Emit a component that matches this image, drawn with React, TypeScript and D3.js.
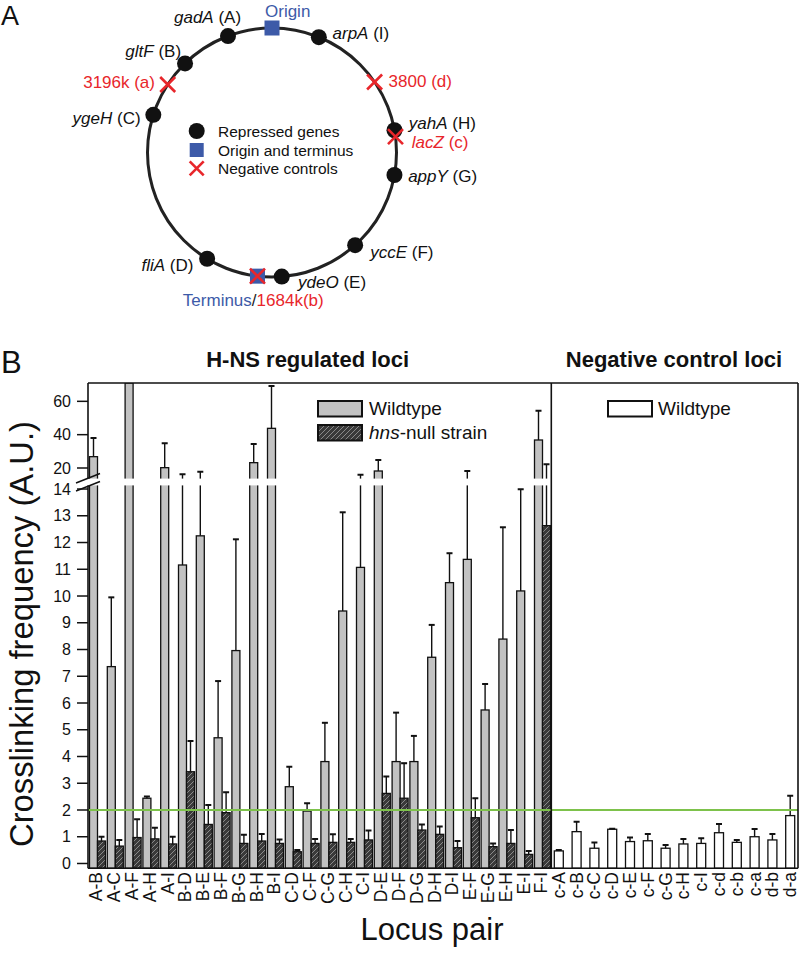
import React from "react";
import * as d3 from "d3";

// ---------------- Panel B data ----------------
const hnsPairs = ["A-B","A-C","A-F","A-H","A-I","B-D","B-E","B-F","B-G","B-H","B-I","C-D","C-F","C-G","C-H","C-I","D-E","D-F","D-G","D-H","D-I","E-F","E-G","E-H","E-I","F-I"];
const wildtypeValues = [26.8,7.36,80,2.44,20.2,11.16,12.25,4.7,7.96,23.2,43.8,2.87,1.96,3.81,9.44,11.07,18.2,3.81,3.81,7.71,10.5,11.37,5.74,8.39,10.19,36.8];
const wildtypeErrors = [11.2,2.59,0,0.06,14.6,5.14,5.55,2.12,4.16,11.2,25.4,0.75,0.29,1.45,3.69,4.93,6.6,1.83,0.96,1.21,1.1,6.83,0.97,4.18,3.8,17.6];
const hnsNullValues = [0.84,0.65,0.97,0.92,0.73,3.43,1.46,1.9,0.75,0.84,0.75,0.44,0.75,0.79,0.79,0.88,2.62,2.44,1.25,1.09,0.59,1.71,0.63,0.75,0.34,12.63];
const hnsNullErrors = [0.16,0.23,0.68,0.42,0.27,1.15,0.73,0.76,0.32,0.26,0.15,0.06,0.17,0.3,0.13,0.35,0.63,1.31,0.21,0.29,0.25,0.73,0.12,0.5,0.13,9.6];

const negPairs = ["c-A","c-B","c-C","c-D","c-E","c-F","c-G","c-H","c-I","c-d","c-b","c-a","d-b","d-a"];
const negValues = [0.47,1.19,0.57,1.28,0.82,0.85,0.57,0.73,0.75,1.15,0.79,1.0,0.88,1.79];
const negErrors = [0.03,0.37,0.21,0.02,0.15,0.25,0.12,0.19,0.19,0.33,0.09,0.29,0.22,0.74];

const lowerTicks = [0,1,2,3,4,5,6,7,8,9,10,11,12,13,14];
const upperTicks = [20,40,60];
const thresholdValue = 2;

// ---------------- Panel A data ----------------
// angle (degrees, clockwise from top) of each locus on the circular chromosome
const genes = [
  { name: "gadA", tag: "(A)", angle: -20.7 },
  { name: "arpA", tag: "(I)", angle: 22.1 },
  { name: "gltF", tag: "(B)", angle: -44.3 },
  { name: "ygeH", tag: "(C)", angle: -72.4 },
  { name: "yahA", tag: "(H)", angle: 79.7 },
  { name: "appY", tag: "(G)", angle: 100.4 },
  { name: "yccE", tag: "(F)", angle: 138.1 },
  { name: "ydeO", tag: "(E)", angle: 175.5 },
  { name: "fliA", tag: "(D)", angle: 211.4 },
];
const controls = [
  { name: "3196k (a)", angle: -56.9 },
  { name: "3800 (d)", angle: 55.5 },
  { name: "lacZ", tag: " (c)", angle: 82.7 },
  { name: "1684k(b)", angle: 186.7 },
];
const originAngle = 0;
const terminusAngle = 186.7;

// label layout (offsets from marker)
const geneLabelLayout: Record<string, { dx: number; dy: number; anchor: string }> = {
  gadA: { dx: -54, dy: -12.6, anchor: "start" },
  arpA: { dx: 13.7, dy: 2.3, anchor: "start" },
  gltF: { dx: -4, dy: -6.7, anchor: "end" },
  ygeH: { dx: -12.7, dy: 9, anchor: "end" },
  yahA: { dx: 14.3, dy: -1.7, anchor: "start" },
  appY: { dx: 13.7, dy: 6.7, anchor: "start" },
  yccE: { dx: 15, dy: 13.3, anchor: "start" },
  ydeO: { dx: 16.3, dy: 11.7, anchor: "start" },
  fliA: { dx: -13.7, dy: 12.4, anchor: "end" },
};
const controlLabelLayout: Record<string, { dx: number; dy: number; anchor: string }> = {
  "3196k (a)": { dx: -12.7, dy: 3.4, anchor: "end" },
  "3800 (d)": { dx: 14, dy: 5, anchor: "start" },
  lacZ: { dx: 16.3, dy: 11.6, anchor: "start" },
};

const FONT = "'Liberation Sans', Arial, Helvetica, sans-serif";
const RED = "#e8262b";
const BLUE = "#3d5aa8";

function XMark({ x, y, s = 7.5, w = 2.6 }: { x: number; y: number; s?: number; w?: number }) {
  return (
    <g stroke={RED} strokeWidth={w} strokeLinecap="butt">
      <line x1={x - s} y1={y - s} x2={x + s} y2={y + s} />
      <line x1={x - s} y1={y + s} x2={x + s} y2={y - s} />
    </g>
  );
}

export default function App() {
  // ---- Panel A geometry ----
  const cx = 272, cy = 152.5, R = 124.5;
  const pos = (deg: number) => {
    const a = (deg * Math.PI) / 180;
    return [cx + R * Math.sin(a), cy - R * Math.cos(a)];
  };

  // ---- Panel B scales ----
  const allPairs = [...hnsPairs, ...negPairs];
  const x = d3.scaleBand<string>().domain(allPairs).range([88.5, 800.5]).padding(0);
  const bw = x.bandwidth();
  const yLow = d3.scaleLinear().domain([-0.18, 14.3]).range([868.3, 481]);
  const yHigh = d3.scaleLinear().domain([14, 71]).range([478, 383]).clamp(true);
  const yv = (v: number) => (v <= 14.3 ? yLow(v) : yHigh(v));
  const base = yLow(-0.18);
  const plotL = 88, plotR = 798, plotT = 383;
  const divX = x("c-A")!;

  const bar = (x0: number, w: number, v: number, fill: string, key: string) => (
    <rect key={key} x={x0} y={yv(v)} width={w} height={base - yv(v)} fill={fill} stroke="#111" strokeWidth={1.3} />
  );
  const err = (xc: number, v: number, e: number, key: string) =>
    e > 0 ? (
      <g key={key} stroke="#111">
        <line x1={xc} x2={xc} y1={yv(v)} y2={yv(v + e)} strokeWidth={1.4} />
        <line x1={xc - 3} x2={xc + 3} y1={yv(v + e)} y2={yv(v + e)} strokeWidth={2} />
      </g>
    ) : null;

  return (
    <svg width={800} height={963} viewBox="0 0 800 963" style={{ display: "block", position: "absolute", left: 0, top: 0, background: "#fff" }} fontFamily={FONT}>
      <defs>
        <pattern id="hatch" patternUnits="userSpaceOnUse" width={5} height={5}>
          <rect width={5} height={5} fill="#3a3a3a" />
          <path d="M-1,1 l2,-2 M0,5 l5,-5 M4,6 l2,-2" stroke="#8a8a8a" strokeWidth={1} />
        </pattern>
        <clipPath id="plotclip">
          <rect x={plotL} y={plotT} width={plotR - plotL} height={base - plotT + 2} />
        </clipPath>
      </defs>
      <rect width={800} height={963} fill="#fff" />

      {/* ================= Panel A ================= */}
      <text x={1} y={25} fontSize={27} fill="#111">A</text>
      <circle cx={cx} cy={cy} r={R} fill="none" stroke="#222" strokeWidth={3} />
      {/* origin */}
      {(() => {
        const [ox, oy] = pos(originAngle);
        return (
          <g>
            <rect x={ox - 7.5} y={oy - 7.5} width={15} height={15} fill={BLUE} />
            <text x={ox - 7} y={oy - 11} fontSize={17} fill={BLUE}>Origin</text>
          </g>
        );
      })()}
      {/* genes */}
      {genes.map((g) => {
        const [gx, gy] = pos(g.angle);
        const L = geneLabelLayout[g.name];
        return (
          <g key={g.name}>
            <circle cx={gx} cy={gy} r={8} fill="#111" />
            <text x={gx + L.dx} y={gy + L.dy} fontSize={17} fill="#111" textAnchor={L.anchor}>
              <tspan fontStyle="italic">{g.name}</tspan>
              <tspan> {g.tag}</tspan>
            </text>
          </g>
        );
      })}
      {/* terminus */}
      {(() => {
        const [tx, ty] = pos(terminusAngle);
        return (
          <g>
            <rect x={tx - 7.5} y={ty - 7.5} width={15} height={15} fill={BLUE} />
            <text x={tx - 74.6} y={ty + 30} fontSize={17}>
              <tspan fill={BLUE}>Terminus</tspan>
              <tspan fill="#222">/</tspan>
              <tspan fill={RED}>{controls[3].name}</tspan>
            </text>
          </g>
        );
      })()}
      {/* controls */}
      {controls.map((c) => {
        const [kx, ky] = pos(c.angle);
        const L = controlLabelLayout[c.name];
        return (
          <g key={c.name}>
            <XMark x={kx} y={ky} />
            {L && (
              <text x={kx + L.dx} y={ky + L.dy} fontSize={17} fill={RED} textAnchor={L.anchor}>
                {c.tag ? (
                  <>
                    <tspan fontStyle="italic">{c.name}</tspan>
                    <tspan>{c.tag}</tspan>
                  </>
                ) : (
                  c.name
                )}
              </text>
            )}
          </g>
        );
      })}
      {/* legend A */}
      <circle cx={196.7} cy={131} r={8} fill="#111" />
      <rect x={189.7} y={143} width={14} height={14} fill={BLUE} />
      <XMark x={196.7} y={168.3} s={7} />
      <text x={218} y={137} fontSize={15.5} fill="#111">Repressed genes</text>
      <text x={218} y={155.5} fontSize={15.5} fill="#111">Origin and terminus</text>
      <text x={218} y={174} fontSize={15.5} fill="#111">Negative controls</text>

      {/* ================= Panel B ================= */}
      <text x={1} y={373} fontSize={31} fill="#111">B</text>
      <text x={(plotL + divX) / 2 - 12} y={367} fontSize={22} fontWeight="bold" textAnchor="middle" fill="#111">H-NS regulated loci</text>
      <text x={674} y={367} fontSize={22} fontWeight="bold" textAnchor="middle" fill="#111">Negative control loci</text>

      <g clipPath="url(#plotclip)">
        {hnsPairs.map((p, i) => bar(x(p)! + 1, 8, wildtypeValues[i], "#c2c2c2", "w" + p))}
        {hnsPairs.map((p, i) => bar(x(p)! + 9, 8, hnsNullValues[i], "url(#hatch)", "h" + p))}
        {negPairs.map((p, i) => bar(x(p)! + 3, 9, negValues[i], "#fff", "n" + p))}
        {hnsPairs.map((p, i) => err(x(p)! + 5, wildtypeValues[i], wildtypeErrors[i], "we" + p))}
        {hnsPairs.map((p, i) => err(x(p)! + 13, hnsNullValues[i], hnsNullErrors[i], "he" + p))}
        {negPairs.map((p, i) => err(x(p)! + 7.5, negValues[i], negErrors[i], "ne" + p))}
      </g>

      {/* axis break gap */}
      <rect x={86} y={478.6} width={divX - 87} height={6.8} fill="#fff" />
      <line x1={76} y1={483} x2={100} y2={473.5} stroke="#111" strokeWidth={1.5} />
      <line x1={76} y1={491} x2={100} y2={481.5} stroke="#111" strokeWidth={1.5} />

      {/* threshold line */}
      <line x1={plotL} x2={plotR} y1={yv(thresholdValue)} y2={yv(thresholdValue)} stroke="#7dc24b" strokeWidth={2} />

      {/* frame */}
      <line x1={plotL} x2={plotR} y1={plotT} y2={plotT} stroke="#111" strokeWidth={1.6} />
      <line x1={plotR} x2={plotR} y1={plotT} y2={base} stroke="#111" strokeWidth={1.6} />
      <line x1={plotL} x2={plotR} y1={base} y2={base} stroke="#111" strokeWidth={1.6} />
      <line x1={plotL} x2={plotL} y1={plotT} y2={478.6} stroke="#111" strokeWidth={1.6} />
      <line x1={plotL} x2={plotL} y1={485.4} y2={base} stroke="#111" strokeWidth={1.6} />
      <line x1={divX} x2={divX} y1={plotT} y2={base} stroke="#111" strokeWidth={1.6} />

      {/* y ticks */}
      {lowerTicks.map((t) => (
        <g key={"lt" + t}>
          <line x1={77} x2={plotL} y1={yLow(t)} y2={yLow(t)} stroke="#111" strokeWidth={1.5} />
          <text x={71} y={yLow(t) + 5.7} fontSize={16} textAnchor="end" fill="#111">{t}</text>
        </g>
      ))}
      {upperTicks.map((t) => (
        <g key={"ut" + t}>
          <line x1={77} x2={plotL} y1={yHigh(t)} y2={yHigh(t)} stroke="#111" strokeWidth={1.5} />
          <text x={71} y={yHigh(t) + 5.7} fontSize={16} textAnchor="end" fill="#111">{t}</text>
        </g>
      ))}

      {/* legends */}
      <rect x={318} y={401} width={44} height={15.5} fill="#c2c2c2" stroke="#111" strokeWidth={2} />
      <rect x={318} y={425} width={44} height={15.5} fill="url(#hatch)" stroke="#111" strokeWidth={2} />
      <text x={369} y={415} fontSize={19} fill="#111">Wildtype</text>
      <text x={369} y={439} fontSize={19} fill="#111"><tspan fontStyle="italic">hns</tspan>-null strain</text>
      <rect x={608} y={401} width={44} height={15.5} fill="#fff" stroke="#111" strokeWidth={2} />
      <text x={658} y={415} fontSize={19} fill="#111">Wildtype</text>

      {/* x labels */}
      {hnsPairs.map((p) => (
        <text key={"xl" + p} transform={`translate(${x(p)! + bw / 2 + 5},872) rotate(-90)`} fontSize={17.5} textAnchor="end" fill="#111">{p}</text>
      ))}
      {negPairs.map((p) => (
        <text key={"xl" + p} transform={`translate(${x(p)! + 7.5 + 6},872) rotate(-90)`} fontSize={17.5} textAnchor="end" fill="#111">{p}</text>
      ))}

      {/* axis titles */}
      <text transform="translate(33,634) rotate(-90)" fontSize={33} textAnchor="middle" textLength={426} lengthAdjust="spacingAndGlyphs" fill="#111">Crosslinking frequency (A.U.)</text>
      <text x={432} y={940} fontSize={31} textAnchor="middle" fill="#111">Locus pair</text>
    </svg>
  );
}
